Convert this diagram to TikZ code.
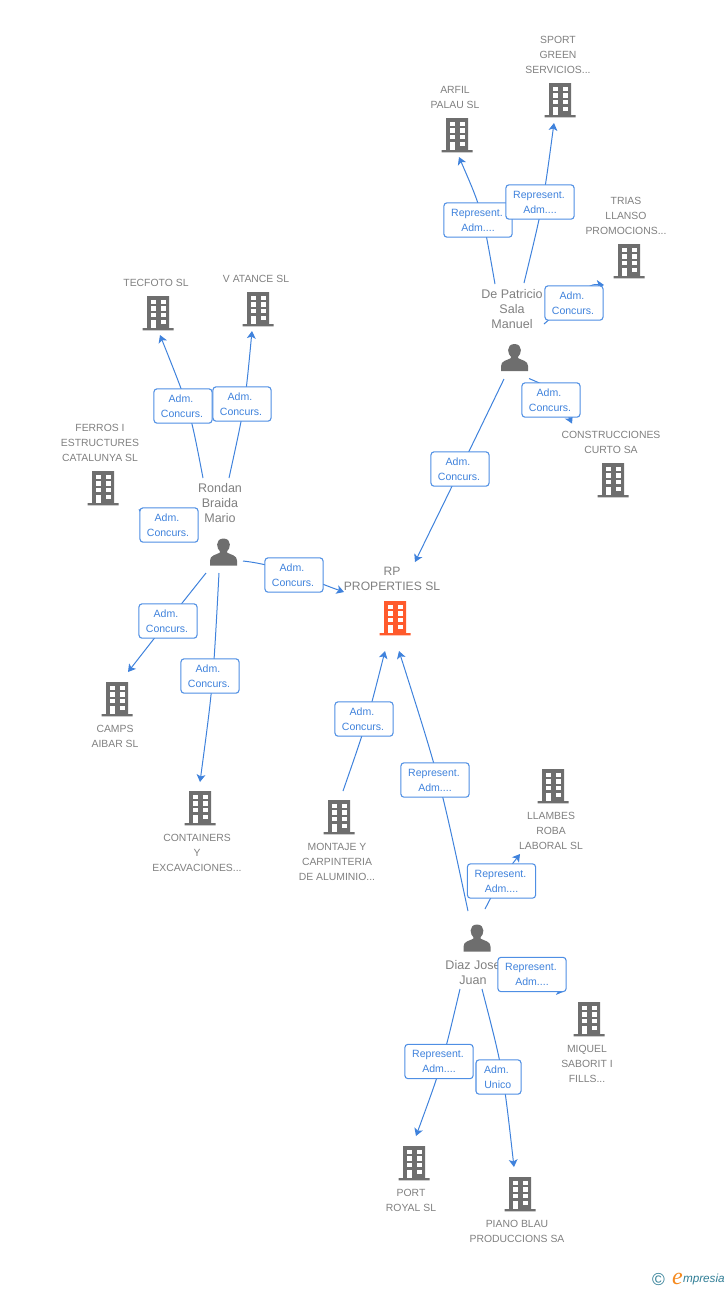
\documentclass[tikz,border=0pt]{standalone}
\usepackage{fontspec}
\setmainfont{Liberation Sans}
\newfontfamily\logofont{Liberation Serif}
\usetikzlibrary{arrows.meta}
\definecolor{linkblue}{HTML}{3F82DC}
\definecolor{boxline}{HTML}{4F8FE4}
\definecolor{boxtext}{HTML}{3F82DC}
\definecolor{icongray}{HTML}{6E6E6E}
\definecolor{labelgray}{HTML}{808080}
\definecolor{mainred}{HTML}{FF5A2C}
\definecolor{logoteal}{HTML}{2F7D95}
\definecolor{logoorange}{HTML}{F58A1F}
\tikzset{
  every node/.style={inner sep=0pt,outer sep=0pt},
  conn/.style={draw=linkblue,line width=0.75pt,-{Stealth[length=5.6pt,width=6.6pt,inset=1.4pt]}},
  relbox/.style={draw=boxline,line width=0.8pt,rounded corners=2.4pt,fill=white,
     text=boxtext,align=center,minimum height=25.8pt,font=\fontsize{7.9}{11.25}\selectfont},
  adm/.style={relbox,minimum width=43.6pt},
  rep/.style={relbox,minimum width=51.2pt},
  uni/.style={relbox,minimum width=33.8pt},
  cmp/.style={text=labelgray,align=center,font=\fontsize{7.8}{11.25}\selectfont},
  main/.style={text=labelgray,align=center,font=\fontsize{9.1}{11.25}\selectfont},
  per/.style={text=labelgray,align=center,font=\fontsize{9.4}{11.25}\selectfont},
  icon/.style={minimum width=23pt,minimum height=25pt},
  bldg/.pic={
    \fill[pic actions] (-11,-17) -- (11,-17) -- (11,15) -- (15.5,15) -- (15.5,17.3) -- (-15.5,17.3) -- (-15.5,15) -- (-11,15) -- cycle;
    \foreach \yy/\hh in {-13.3/4.3,-6.8/4.3,0/4.3}{
      \fill[white] (-7.5,\yy) rectangle (-2.5,\yy+\hh);
      \fill[white] (2.5,\yy) rectangle (7.5,\yy+\hh);
    }
    \fill[white] (-7.5,6.7) rectangle (-2.5,15);
    \fill[white] (2.5,6.7) rectangle (7.5,11.2);
  },
  man/.pic={
    \fill[pic actions] (0,-13.5) .. controls (-4.4,-13.5) and (-6.4,-10.5) .. (-6.4,-7.5)
      .. controls (-6.4,-4.5) and (-5,-2) .. (-3.6,-0.8) -- (-3.6,0.6)
      .. controls (-7,2.8) and (-13.5,3) .. (-13.5,8.5) -- (-13.5,13.5) -- (13.5,13.5) -- (13.5,8.5)
      .. controls (13.5,3) and (7,2.8) .. (3.6,0.6) -- (3.6,-0.8)
      .. controls (5,-2) and (6.4,-4.5) .. (6.4,-7.5)
      .. controls (6.4,-10.5) and (4.4,-13.5) .. (0,-13.5) -- cycle;
  }
}
\newcommand\lnk[4]{%
  \coordinate (#1s) at (#2);
  \coordinate (#1e) at (#4);
  \draw[conn] (#1s) .. controls (#3) .. (#1e);}
\newcommand\admtxt{Adm.\hspace*{3pt}\\Concurs.\hspace*{1.5pt}}
\newcommand\reptxt{Represent.\hspace*{1.5pt}\\Adm....}
\begin{document}
\begin{tikzpicture}[x=0.75pt,y=-0.75pt]
\useasboundingbox (0,0) rectangle (728,1290);
% building and person anchors with their icons
\foreach \nm/\xx/\yy in {sport/560/100,arfil/457/135,trias/629/261,constr/613/480,tecfoto/158/313,vatance/258/309,ferros/103/488,camps/117/699,containers/200/808,montaje/339/817,llambes/553/786,miquel/589/1019,port/414/1163,piano/520/1194}{
  \node[icon] (\nm) at (\xx,\yy) {};
  \pic[fill=icongray] at (\nm) {bldg};
}
\node[icon] (rp) at (395,618) {};
\pic[fill=mainred] at (rp) {bldg};
\foreach \nm/\xx/\yy in {depatricio/514.5/357.5,rondan/223.5/552,diaz/477/938}{
  \node[icon] (\nm) at (\xx,\yy) {};
  \pic[fill=icongray] at (\nm) {man};
}
% labels
\node[cmp] (lsport) at (558,54.7) {SPORT\\GREEN\\SERVICIOS...};
\node[cmp] (larfil) at (455,97.3) {ARFIL\\PALAU SL};
\node[cmp] (ltrias) at (626,215.7) {TRIAS\\LLANSO\\PROMOCIONS...};
\node[cmp] (lconstr) at (611,442.3) {CONSTRUCCIONES\\CURTO SA};
\node[cmp] (ltecfoto) at (156,282.7) {TECFOTO SL};
\node[cmp] (lvatance) at (256,278.7) {V ATANCE SL};
\node[cmp] (lferros) at (100,442.7) {FERROS I\\ESTRUCTURES\\CATALUNYA SL};
\node[main] (lrp) at (392,579) {RP\\PROPERTIES SL};
\node[cmp] (lcamps) at (115,736.3) {CAMPS\\AIBAR SL};
\node[cmp] (lcontainers) at (197,852.7) {CONTAINERS\\Y\\EXCAVACIONES...};
\node[cmp] (lmontaje) at (337,861.7) {MONTAJE Y\\CARPINTERIA\\DE ALUMINIO...};
\node[cmp] (lllambes) at (551,830.7) {LLAMBES\\ROBA\\LABORAL SL};
\node[cmp] (lmiquel) at (587,1063.7) {MIQUEL\\SABORIT I\\FILLS...};
\node[cmp] (lport) at (411,1200.3) {PORT\\ROYAL SL};
\node[cmp] (lpiano) at (517,1231.3) {PIANO BLAU\\PRODUCCIONS SA};
\node[per] (ldepatricio) at (512,309.5) {De Patricio\\Sala\\Manuel};
\node[per] (lrondan) at (220,503.5) {Rondan\\Braida\\Mario};
\node[per] (ldiaz) at (473,973) {Diaz Jose\\Juan};
% connectors
\lnk{a}{495,284}{482,210}{459,157}
\lnk{b}{524,283}{543,205}{554,123}
\lnk{c}{544,324}{590,284}{604,285}
\lnk{d}{529,378.5}{556,390}{572,423.5}
\lnk{e}{504,379}{460,470}{415,562}
\lnk{f}{203,478}{190,410}{160,335}
\lnk{g}{229,478}{245,405}{252,331}
\lnk{h}{175,520}{150,515}{138.5,509.5}
\lnk{i}{243,561}{280,565) and (310,580}{344,592}
\lnk{j}{206,573}{167,622}{128,672}
\lnk{k}{219,573}{213,685}{200,782}
\lnk{l}{343,791}{367,722}{385,651}
\lnk{m}{468,911}{440,780}{399,651}
\lnk{n}{485,909}{500,880}{520,854}
\lnk{o}{520,975}{553,990}{564,991.5}
\lnk{p}{460,989}{442,1065}{416,1136}
\lnk{q}{482,989}{503,1070}{514,1167}
% relation boxes
\node[rep] (ba) at (478,220) {\reptxt};
\node[rep] (bb) at (540,202) {\reptxt};
\node[adm] (bc) at (574,303) {\admtxt};
\node[adm] (bd) at (551,400) {\admtxt};
\node[adm] (be) at (460,469) {\admtxt};
\node[adm] (bf) at (183,406) {\admtxt};
\node[adm] (bg) at (242,404) {\admtxt};
\node[adm] (bh) at (169,525) {\admtxt};
\node[adm] (bi) at (294,575) {\admtxt};
\node[adm] (bj) at (168,621) {\admtxt};
\node[adm] (bk) at (210,676) {\admtxt};
\node[adm] (bl) at (364,719) {\admtxt};
\node[rep] (bm) at (435,780) {\reptxt};
\node[rep] (bn) at (501.5,881) {\reptxt};
\node[rep] (bo) at (532,974.5) {\reptxt};
\node[rep] (bp) at (439,1061.5) {\reptxt};
\node[uni] (bq) at (498.5,1077) {Adm.\hspace*{3pt}\\Unico\hspace*{1pt}};
% logo
\node[text=logoteal,font=\fontsize{13}{13}\selectfont] (logoc) at (658.5,1279) {©};
\node[text=logoorange,font=\logofont\itshape\fontsize{18}{18}\selectfont] (logoe) at (677.5,1278.5) {e};
\node[text=logoteal,font=\itshape\fontsize{8.8}{12}\selectfont,anchor=west] (logot) at (683,1279.5) {mpresia};
\end{tikzpicture}
\end{document}
